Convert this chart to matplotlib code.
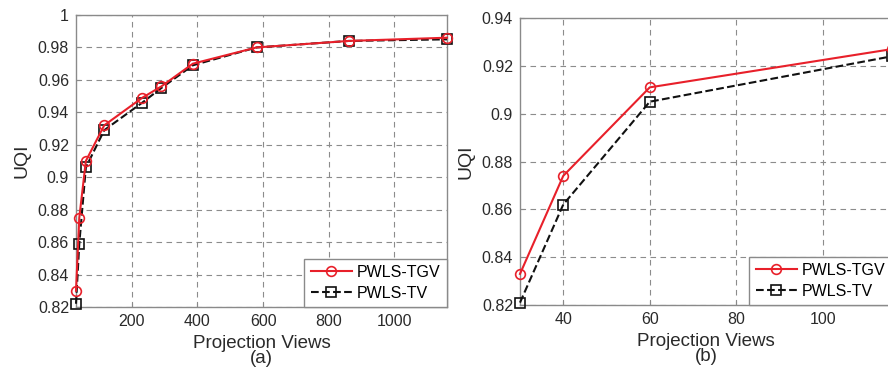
import matplotlib.pyplot as plt
import numpy as np
from matplotlib.ticker import FuncFormatter

plt.rcParams['font.family'] = ['Liberation Sans', 'DejaVu Sans']

# full range of projection views (panel a)
views = [30, 40, 60, 116, 232, 290, 386, 580, 860, 1160]
uqi_tgv = [0.830, 0.875, 0.910, 0.932, 0.949, 0.956, 0.970, 0.980, 0.984, 0.986]
uqi_tv = [0.822, 0.859, 0.906, 0.929, 0.946, 0.955, 0.969, 0.980, 0.984, 0.985]

# zoom on the sparse views (panel b)
views_b = [30, 40, 60, 116]
uqi_tgv_b = [0.833, 0.874, 0.911, 0.927]
uqi_tv_b = [0.821, 0.862, 0.905, 0.924]

W, H = 888, 376
fig = plt.figure(figsize=(W / 100, H / 100), dpi=100)

fmt = FuncFormatter(lambda v, p: '%g' % round(v, 4))


def style(ax):
    for s in ax.spines.values():
        s.set_color('#8a8a8a')
        s.set_linewidth(1.0)
    ax.grid(True, linestyle=(0, (5, 4)), color='#8c8c8c', linewidth=0.8)
    ax.tick_params(direction='in', length=3, color='#8a8a8a',
                   labelsize=11.5, labelcolor='#2a2a2a', pad=5)
    ax.yaxis.set_major_formatter(fmt)
    ax.set_ylabel('UQI', fontsize=14, color='#2a2a2a', labelpad=5)


def draw(ax, x, a, b, label):
    ax.plot(x, a, '-o', color='#e8202a', lw=1.5, ms=7, mfc='none',
            mew=1.2, label='PWLS-TGV', clip_on=False, zorder=4)
    ax.plot(x, b, '--s', color='#111111', lw=1.5, ms=6.5, mfc='none',
            mew=1.2, label='PWLS-TV', clip_on=False, zorder=3)
    ax.set_xlabel('Projection Views\n' + label, fontsize=13.5, color='#2a2a2a',
                  linespacing=0.9, labelpad=4)
    leg = ax.legend(loc='lower right', borderaxespad=0, fontsize=11.5,
                    handlelength=2.6, fancybox=False, framealpha=1,
                    borderpad=0.4, labelspacing=0.35, handletextpad=0.3)
    leg.get_frame().set_edgecolor('#8a8a8a')
    leg.get_frame().set_linewidth(1.0)


ax1 = fig.add_axes([76 / W, 1 - 307 / H, 371 / W, 292 / H])
style(ax1)
draw(ax1, views, uqi_tgv, uqi_tv, '(a)')
ax1.set_xlim(30, 1160)
ax1.set_ylim(0.82, 1.0)
ax1.set_xticks([200, 400, 600, 800, 1000])
ax1.set_yticks(np.arange(0.82, 1.001, 0.02))

ax2 = fig.add_axes([520 / W, 1 - 305 / H, 372 / W, 287 / H])
style(ax2)
draw(ax2, views_b, uqi_tgv_b, uqi_tv_b, '(b)')
ax2.set_xlim(30, 116)
ax2.set_ylim(0.82, 0.94)
ax2.set_xticks([40, 60, 80, 100])
ax2.set_yticks(np.arange(0.82, 0.941, 0.02))

fig.savefig('out.png', dpi=100)
